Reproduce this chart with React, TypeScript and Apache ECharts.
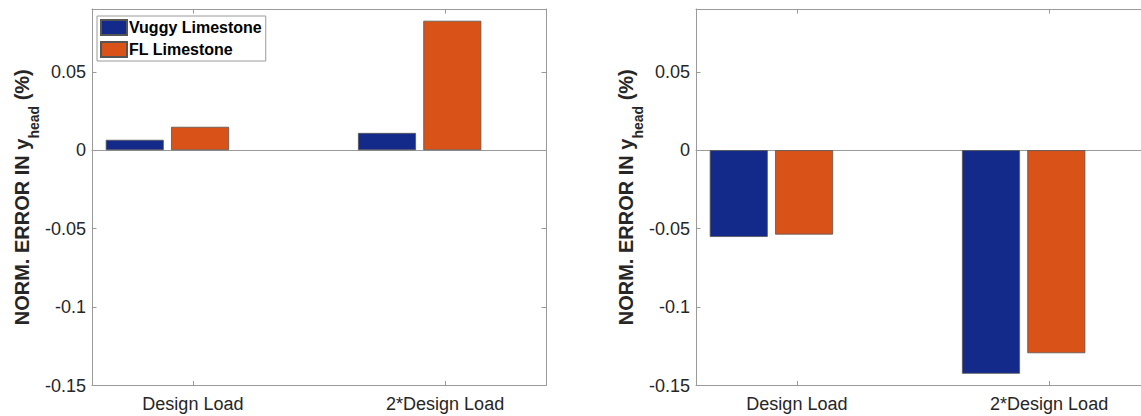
import React, { useEffect, useRef } from "react";
import * as echarts from "echarts";

const categories = ["Design Load", "2*Design Load"];
const categoryPositions = [1, 2];
const seriesNames = ["Vuggy Limestone", "FL Limestone"];
const leftVuggy = [0.0066, 0.011];
const leftFL = [0.0149, 0.0825];
const rightVuggy = [-0.0553, -0.1425];
const rightFL = [-0.0538, -0.1294];
const yTicks = [-0.15, -0.1, -0.05, 0, 0.05];
const yTickLabels = ["-0.15", "-0.1", "-0.05", "0", "0.05"];

const FONT = "'Liberation Sans', Arial, Helvetica, sans-serif";
const AXIS_COLOR = "#9a9a9a";
const TEXT_COLOR = "#262626";
const BLUE = "#142a8a";
const ORANGE = "#d95319";

export default function App() {
  const ref = useRef<HTMLDivElement>(null);

  useEffect(() => {
    if (!ref.current) return;
    const chart = echarts.init(ref.current, null, { renderer: "svg" });

    const grids = [
      { left: 92, top: 9, width: 454, height: 376.5 },
      { left: 696, top: 9, width: 454, height: 376.5 },
    ];
    const panels = [
      { v: leftVuggy, f: leftFL },
      { v: rightVuggy, f: rightFL },
    ];

    const xAxes: any[] = [];
    const yAxes: any[] = [];
    const series: any[] = [];

    grids.forEach((_, gi) => {
      const base = xAxes.length;
      // bottom visible axis with category labels
      xAxes.push({
        type: "value",
        gridIndex: gi,
        position: "bottom",
        min: 0.6,
        max: 2.4,
        axisLine: { show: true, onZero: false, lineStyle: { color: AXIS_COLOR, width: 1 } },
        axisTick: { show: true, inside: true, length: 4.5, customValues: categoryPositions, lineStyle: { color: AXIS_COLOR } },
        axisLabel: {
          show: true,
          customValues: categoryPositions,
          formatter: (val: number) => categories[Math.round(val) - 1] ?? "",
          fontFamily: FONT,
          fontSize: 18,
          color: TEXT_COLOR,
          margin: 9,
        },
        splitLine: { show: false },
      });
      // hidden axis for bars (group shifted as in the original figure); draws zero baseline
      xAxes.push({
        type: "value",
        gridIndex: gi,
        position: "bottom",
        min: 0.701,
        max: 2.501,
        axisLine: { show: true, onZero: true, lineStyle: { color: AXIS_COLOR, width: 1 } },
        axisTick: { show: false },
        axisLabel: { show: false },
        splitLine: { show: false },
      });
      // top axis (box)
      xAxes.push({
        type: "value",
        gridIndex: gi,
        position: "top",
        min: 0.6,
        max: 2.4,
        axisLine: { show: true, onZero: false, lineStyle: { color: AXIS_COLOR, width: 1 } },
        axisTick: { show: true, inside: true, length: 4.5, customValues: categoryPositions, lineStyle: { color: AXIS_COLOR } },
        axisLabel: { show: false },
        splitLine: { show: false },
      });

      const ybase = yAxes.length;
      yAxes.push({
        type: "value",
        gridIndex: gi,
        position: "left",
        min: -0.15,
        max: 0.09,
        interval: 0.05,
        axisLine: { show: true, onZero: false, lineStyle: { color: AXIS_COLOR, width: 1 } },
        axisTick: { show: true, inside: true, length: 4.5, customValues: yTicks, lineStyle: { color: AXIS_COLOR } },
        axisLabel: {
          show: true,
          customValues: yTicks,
          formatter: (val: number) => {
            const i = yTicks.findIndex((t) => Math.abs(t - val) < 1e-9);
            return i >= 0 ? yTickLabels[i] : "";
          },
          fontFamily: FONT,
          fontSize: 18,
          color: TEXT_COLOR,
          margin: 6,
        },
        splitLine: { show: false },
        name: "{b|NORM. ERROR IN y}{s|head}{b| (%)}",
        nameLocation: "middle",
        nameRotate: 90,
        nameGap: 52,
        nameTextStyle: {
          rich: {
            b: { fontFamily: FONT, fontSize: 20, fontWeight: "bold", color: TEXT_COLOR, lineHeight: 20, verticalAlign: "top" },
            s: { fontFamily: FONT, fontSize: 14, fontWeight: "bold", color: TEXT_COLOR, lineHeight: 14, verticalAlign: "top", padding: [15, 0, 0, 0] },
          },
        },
      });
      yAxes.push({
        type: "value",
        gridIndex: gi,
        position: "right",
        min: -0.15,
        max: 0.09,
        interval: 0.05,
        axisLine: { show: true, onZero: false, lineStyle: { color: AXIS_COLOR, width: 1 } },
        axisTick: { show: true, inside: true, length: 4.5, customValues: yTicks, lineStyle: { color: AXIS_COLOR } },
        axisLabel: { show: false },
        splitLine: { show: false },
      });

      const p = panels[gi];
      [p.v, p.f].forEach((vals, si) => {
        series.push({
          type: "bar",
          name: seriesNames[si],
          xAxisIndex: base + 1,
          yAxisIndex: ybase,
          barWidth: 58,
          barGap: "12.6%",
          data: vals.map((y, i) => [categoryPositions[i], y]),
          itemStyle: {
            color: si === 0 ? BLUE : ORANGE,
            borderColor: "#555555",
            borderWidth: 0.8,
          },
          emphasis: { disabled: true },
          silent: true,
        });
      });
    });

    chart.setOption({
      animation: false,
      backgroundColor: "#ffffff",
      grid: grids.map((g) => ({ ...g, containLabel: false, outerBoundsMode: "none" })),
      xAxis: xAxes,
      yAxis: yAxes,
      legend: {
        show: true,
        orient: "vertical",
        left: 97,
        top: 16,
        padding: [3, 4, 3, 3],
        itemWidth: 26,
        itemHeight: 15,
        itemGap: 5,
        icon: "rect",
        selectedMode: false,
        borderColor: "#9a9a9a",
        borderWidth: 1,
        backgroundColor: "#ffffff",
        data: seriesNames,
        textStyle: { fontFamily: FONT, fontSize: 16, fontWeight: "bold", color: "#000000", padding: [0, 0, 0, -3] },
      },
      series,
    });

    return () => chart.dispose();
  }, []);

  return (
    <div
      ref={ref}
      style={{ position: "fixed", left: 0, top: 0, width: 1141, height: 416, overflow: "hidden", background: "#fff" }}
    />
  );
}
